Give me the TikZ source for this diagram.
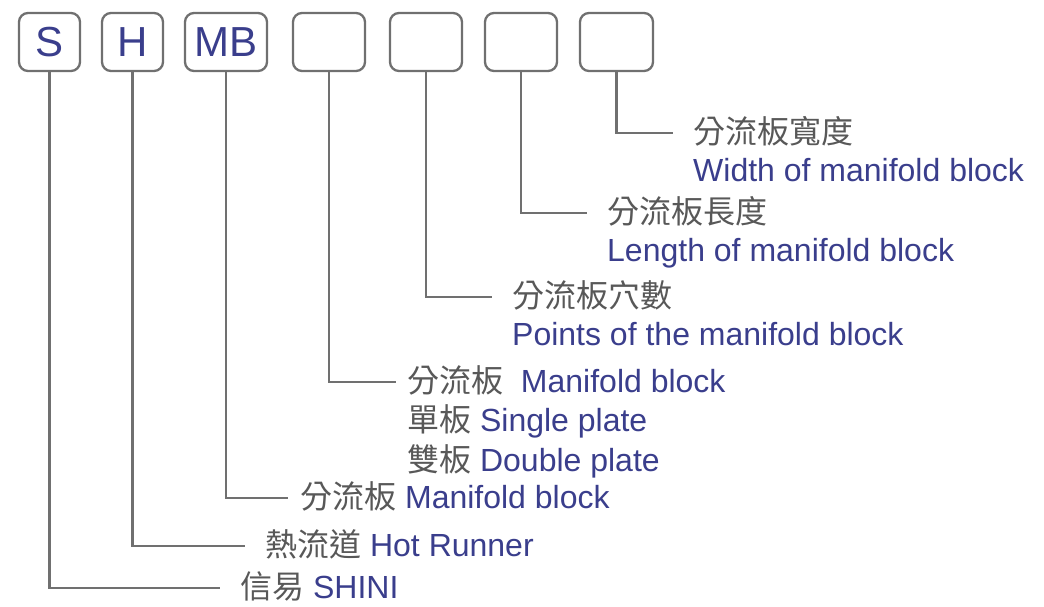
\documentclass[tikz,border=0pt]{standalone}
\usepackage{fontspec}
\setmainfont{Liberation Sans}
\newfontfamily\cjk{Noto Sans CJK TC}
\usetikzlibrary{positioning}

\definecolor{zhgray}{RGB}{88,88,88}
\definecolor{enblue}{RGB}{58,62,140}
\definecolor{linegray}{RGB}{112,112,112}

\newcommand{\zhtxt}[1]{{\cjk\color{zhgray}#1}}
\newcommand{\entxt}[1]{{\color{enblue}#1}}

\tikzset{
  codebox/.style={draw=linegray, line width=2.3pt, rounded corners=9pt,
    minimum width=61pt, minimum height=58pt, inner sep=0pt,
    text=enblue, font=\fontsize{42}{42}\selectfont},
  lbl/.style={anchor=west, inner sep=0pt, text height=26pt, text depth=5pt,
    font=\fontsize{32}{36}\selectfont},
  lead/.style={draw=linegray, line width=2.3pt, shorten >=20pt},
}

\begin{document}
\begin{tikzpicture}[x=1pt, y=-1pt]
    \useasboundingbox (0,0) rectangle (1044,606);

    % the code boxes
    \node[codebox] (s)  at (49.5,42)  {S};
    \node[codebox] (h)  at (132.5,42) {H};
    \node[codebox, minimum width=82pt] (mb) at (226,42) {MB};
    \node[codebox, minimum width=72pt] (pl) at (329,42) {};
    \node[codebox, minimum width=72pt] (pt) at (426,42) {};
    \node[codebox, minimum width=72pt] (ln) at (521,42) {};
    \node[codebox, minimum width=73pt] (wd) at (616.5,42) {};

    % labels
    \node[lbl] (wdzh) at (693,133) {\zhtxt{分流板寬度}};
    \node[lbl, below=7pt of wdzh.south west, anchor=north west] (wden)
        {\entxt{Width of manifold block}};
    \node[lbl] (lnzh) at (607,213) {\zhtxt{分流板長度}};
    \node[lbl, below=7pt of lnzh.south west, anchor=north west] (lnen)
        {\entxt{Length of manifold block}};
    \node[lbl] (ptzh) at (512,297) {\zhtxt{分流板穴數}};
    \node[lbl, below=7pt of ptzh.south west, anchor=north west] (pten)
        {\entxt{Points of the manifold block}};
    \node[lbl] (plzh) at (407,382) {\zhtxt{分流板}\ \ \entxt{Manifold block}};
    \node[lbl, below=8pt of plzh.south west, anchor=north west] (plsg)
        {\zhtxt{單板} \entxt{Single plate}};
    \node[lbl, below=8pt of plsg.south west, anchor=north west] (pldb)
        {\zhtxt{雙板} \entxt{Double plate}};
    \node[lbl] (mbzh) at (300,498) {\zhtxt{分流板} \entxt{Manifold block}};
    \node[lbl] (hzh)  at (265,546) {\zhtxt{熱流道} \entxt{Hot Runner}};
    \node[lbl] (szh)  at (240,588) {\zhtxt{信易} \entxt{SHINI}};

    % leaders
    \draw[lead] (wd.south) |- (wdzh.west);
    \draw[lead] (ln.south) |- (lnzh.west);
    \draw[lead] (pt.south) |- (ptzh.west);
    \draw[lead, shorten >=11pt] (pl.south) |- (plzh.west);
    \draw[lead, shorten >=12pt] (mb.south) |- (mbzh.west);
    \draw[lead] (h.south) |- (hzh.west);
    \draw[lead] (s.south) |- (szh.west);
\end{tikzpicture}
\end{document}
